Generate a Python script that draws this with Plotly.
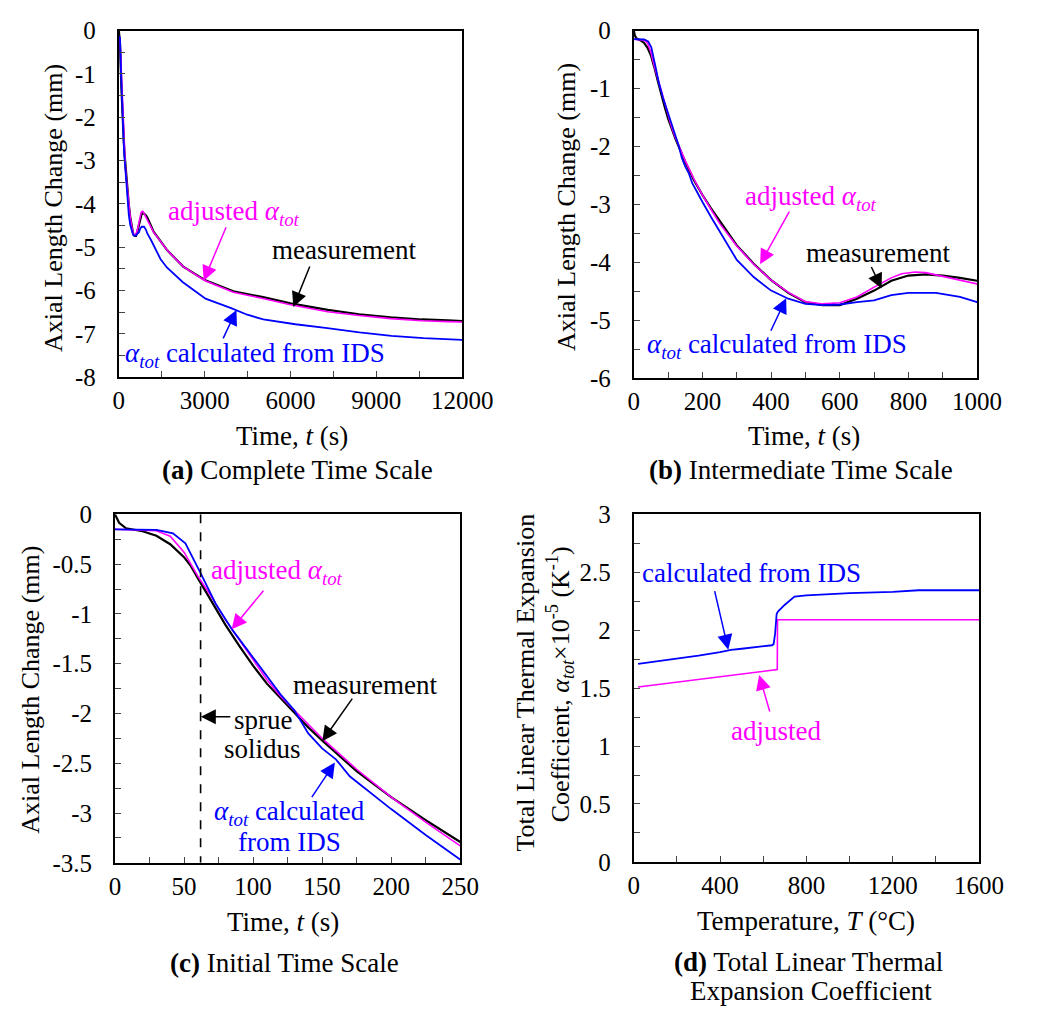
import plotly.graph_objects as go

W, H = 1038, 1019
FONT = "Liberation Serif"
MAG = "#FF00FF"
BLU = "#0000FF"

# ---------------- data: axial length change vs time (s) ----------------
meas_t = [0, 3, 8, 20, 30, 40, 50, 55, 60, 70, 80, 90, 100, 110, 120, 130, 140, 150, 175, 200,
          225, 250, 300, 350, 400, 450, 500, 550, 600, 650, 700, 750, 800, 850, 900, 950, 1000,
          1220, 1700, 2250, 3000, 4000, 5000, 6000, 7300, 8400, 9500, 10600, 11500, 12000]
meas_v = [0, -0.085, -0.14, -0.17, -0.215, -0.30, -0.43, -0.52, -0.64, -0.87, -1.11, -1.32, -1.52,
          -1.70, -1.85, -1.99, -2.14, -2.27, -2.58, -2.84, -3.07, -3.29, -3.71, -4.03, -4.31, -4.53,
          -4.69, -4.74, -4.74, -4.63, -4.49, -4.32, -4.23, -4.21, -4.23, -4.27, -4.32,
          -4.65, -5.08, -5.45, -5.76, -6.02, -6.15, -6.30, -6.45, -6.55, -6.62, -6.67, -6.69, -6.71]

adj_t = [0, 18, 30, 40, 50, 60, 70, 80, 90, 100, 110, 120, 130, 140, 150, 175, 200, 225, 250,
         300, 350, 400, 450, 500, 550, 600, 650, 700, 750, 780, 820, 850, 900, 950, 1000,
         1220, 1700, 2250, 3000, 4000, 5000, 6000, 7300, 8400, 9500, 10600, 11500, 12000]
adj_v = [-0.15, -0.155, -0.165, -0.22, -0.38, -0.62, -0.83, -1.06, -1.26, -1.47, -1.66, -1.83,
         -1.97, -2.10, -2.25, -2.56, -2.84, -3.09, -3.33,
         -3.72, -4.04, -4.31, -4.52, -4.68, -4.72, -4.70, -4.60, -4.43, -4.27, -4.20, -4.17,
         -4.18, -4.25, -4.31, -4.38,
         -4.66, -5.08, -5.45, -5.77, -6.04, -6.18, -6.33, -6.49, -6.58, -6.65, -6.70, -6.72, -6.73]

ids_t = [0, 17, 30, 42, 51, 62, 73, 85, 100, 120, 130, 140, 150, 160, 170, 180, 193, 200, 225, 250,
         300, 350, 400, 450, 500, 550, 600, 650, 700, 750, 800, 880, 950, 1000,
         1120, 1460, 1680, 2240, 3030, 3925, 4490, 5050, 6170, 7290, 8410, 9530, 10650, 12000]
ids_v = [-0.15, -0.15, -0.155, -0.19, -0.29, -0.59, -0.90, -1.16, -1.44, -1.81, -1.97, -2.20,
         -2.35, -2.46, -2.63, -2.74, -2.89, -2.96, -3.22, -3.46,
         -3.96, -4.26, -4.49, -4.63, -4.72, -4.74, -4.73, -4.69, -4.66, -4.57, -4.53, -4.53,
         -4.60, -4.69,
         -4.83, -5.28, -5.47, -5.81, -6.19, -6.41, -6.56, -6.67, -6.78, -6.87, -6.97, -7.05,
         -7.10, -7.14]

sprue_solidus_t = 62  # s

# ---------------- data: total linear thermal expansion coefficient ----------------
cte_ids_T = [20, 100, 200, 300, 400, 450, 500, 600, 640, 648, 655, 662, 668, 700, 745, 800,
             1000, 1200, 1320, 1400, 1600]
cte_ids_v = [1.71, 1.73, 1.75, 1.78, 1.81, 1.83, 1.84, 1.86, 1.87, 1.88, 1.97, 2.14, 2.16,
             2.22, 2.29, 2.30, 2.32, 2.33, 2.345, 2.345, 2.345]
cte_adj_T = [20, 665, 666, 1600]
cte_adj_v = [1.51, 1.66, 2.09, 2.09]

# ---------------- tick labels (major) and minor tick values ----------------
a_xvals = [0, 3000, 6000, 9000, 12000]
a_xtext = ["0", "3000", "6000", "9000", "12000"]
a_xminor = [1500, 4500, 7500, 10500]
a_yvals = [0, -1, -2, -3, -4, -5, -6, -7, -8]
a_ytext = ["0", "-1", "-2", "-3", "-4", "-5", "-6", "-7", "-8"]
a_yminor = [-0.5, -1.5, -2.5, -3.5, -4.5, -5.5, -6.5, -7.5]
b_xvals = [0, 200, 400, 600, 800, 1000]
b_xtext = ["0", "200", "400", "600", "800", "1000"]
b_xminor = [100, 300, 500, 700, 900]
b_yvals = [0, -1, -2, -3, -4, -5, -6]
b_ytext = ["0", "-1", "-2", "-3", "-4", "-5", "-6"]
b_yminor = [-0.5, -1.5, -2.5, -3.5, -4.5, -5.5]
c_xvals = [0, 50, 100, 150, 200, 250]
c_xtext = ["0", "50", "100", "150", "200", "250"]
c_xminor = [25, 75, 125, 175, 225]
c_yvals = [0, -0.5, -1, -1.5, -2, -2.5, -3, -3.5]
c_ytext = ["0", "-0.5", "-1", "-1.5", "-2", "-2.5", "-3", "-3.5"]
c_yminor = [-0.25, -0.75, -1.25, -1.75, -2.25, -2.75, -3.25]
d_xvals = [0, 400, 800, 1200, 1600]
d_xtext = ["0", "400", "800", "1200", "1600"]
d_xminor = [200, 600, 1000, 1400]
d_yvals = [0, 0.5, 1, 1.5, 2, 2.5, 3]
d_ytext = ["0", "0.5", "1", "1.5", "2", "2.5", "3"]
d_yminor = [0.25, 0.75, 1.25, 1.75, 2.25, 2.75]

fig = go.Figure()

for xa, ya in [("x", "y"), ("x2", "y2"), ("x3", "y3")]:
    fig.add_trace(go.Scatter(x=meas_t, y=meas_v, mode="lines", xaxis=xa, yaxis=ya,
                             line=dict(color="black", width=2.2), name="measurement",
                             showlegend=False))
    fig.add_trace(go.Scatter(x=adj_t, y=adj_v, mode="lines", xaxis=xa, yaxis=ya,
                             line=dict(color=MAG, width=1.6), name="adjusted", showlegend=False))
    fig.add_trace(go.Scatter(x=ids_t, y=ids_v, mode="lines", xaxis=xa, yaxis=ya,
                             line=dict(color=BLU, width=1.8), name="calculated from IDS",
                             showlegend=False))

fig.add_trace(go.Scatter(x=[sprue_solidus_t, sprue_solidus_t], y=[0, -3.5], mode="lines",
                         xaxis="x3", yaxis="y3", line=dict(color="black", width=1.6, dash="dash"),
                         showlegend=False))

fig.add_trace(go.Scatter(x=cte_adj_T, y=cte_adj_v, mode="lines", xaxis="x4", yaxis="y4",
                         line=dict(color=MAG, width=1.6), showlegend=False))
fig.add_trace(go.Scatter(x=cte_ids_T, y=cte_ids_v, mode="lines", xaxis="x4", yaxis="y4",
                         line=dict(color=BLU, width=1.8), showlegend=False))


def axis(domain, rng, vals, text, minor_vals, anchor, is_x):
    return dict(domain=domain, range=rng, anchor=anchor, tickmode="array", tickvals=vals,
                ticktext=text, ticks="inside", ticklen=6, tickwidth=1.2, tickcolor="#444",
                minor=dict(tickmode="array", tickvals=minor_vals, ticks="inside", ticklen=6,
                           tickwidth=1.2, tickcolor="#444", showgrid=False),
                showline=True, linecolor="black", linewidth=2, mirror=True, showgrid=False,
                zeroline=False, tickfont=dict(family=FONT, size=25, color="black"),
                ticklabelstandoff=0 if is_x else 16)


def xd(l, r):
    return [l / W, r / W]


def yd(t, b):
    return [1 - b / H, 1 - t / H]


fig.update_layout(
    width=W, height=H, margin=dict(l=0, r=0, t=0, b=0),
    paper_bgcolor="white", plot_bgcolor="white", showlegend=False,
    font=dict(family=FONT, size=27, color="black"),
    xaxis=axis(xd(117, 473), [0, 12000], a_xvals, a_xtext, a_xminor, "y", True),
    yaxis=axis(yd(18, 374), [-8, 0], a_yvals, a_ytext, a_yminor, "x", False),
    xaxis2=axis(xd(651, 1007), [0, 1000], b_xvals, b_xtext, b_xminor, "y2", True),
    yaxis2=axis(yd(18, 375), [-6, 0], b_yvals, b_ytext, b_yminor, "x2", False),
    xaxis3=axis(xd(113, 471), [0, 250], c_xvals, c_xtext, c_xminor, "y3", True),
    yaxis3=axis(yd(515, 873), [-3.5, 0], c_yvals, c_ytext, c_yminor, "x3", False),
    xaxis4=axis(xd(651, 1009), [0, 1600], d_xvals, d_xtext, d_xminor, "y4", True),
    yaxis4=axis(yd(515, 872), [0, 3], d_yvals, d_ytext, d_yminor, "x4", False),
)

anns = []


def txt(x, y, text, color="black", angle=0, size=27):
    anns.append(dict(xref="paper", yref="paper", x=x / W, y=1 - y / H, text=text,
                     showarrow=False, xanchor="center", yanchor="middle", textangle=angle,
                     font=dict(family=FONT, size=size, color=color)))


def arrow(tail, tip, color):
    anns.append(dict(xref="paper", yref="paper", x=tip[0] / W, y=1 - tip[1] / H, text="",
                     showarrow=True, axref="pixel", ayref="pixel",
                     ax=tail[0] - tip[0], ay=tail[1] - tip[1], arrowhead=2, arrowsize=2.0,
                     arrowwidth=1.5, arrowcolor=color))


ALPHA = "<i>α<sub>tot</sub></i>"

# panel (a)
txt(49, 200, "Axial Length Change (mm)", angle=-90, size=26)
txt(297, 435, "Time, <i>t</i> (s)")
txt(302, 469, "<b>(a)</b> Complete Time Scale")
txt(236, 205, "adjusted " + ALPHA, MAG)
arrow((228, 220), (205, 275), MAG)
txt(350, 243, "measurement")
arrow((315, 260), (298, 302), "black")
txt(258, 351, ALPHA + " calculated from IDS", BLU)
arrow((225, 335), (239, 305), BLU)

# panel (b)
txt(581, 199, "Axial Length Change (mm)", angle=-90, size=26)
txt(827, 435, "Time, <i>t</i> (s)")
txt(824, 469, "<b>(b)</b> Intermediate Time Scale")
txt(835, 190, "adjusted " + ALPHA, MAG)
arrow((812, 204), (782, 258), MAG)
txt(904, 247, "measurement")
arrow((897, 260), (908, 283), "black")
txt(800, 342, ALPHA + " calculated from IDS", BLU)
arrow((793, 327), (809, 293), BLU)

# panel (c)
txt(25, 695, "Axial Length Change (mm)", angle=-90, size=26)
txt(287, 934, "Time, <i>t</i> (s)")
txt(289, 976, "<b>(c)</b> Initial Time Scale")
txt(281, 574, "adjusted " + ALPHA, MAG)
arrow((267, 593), (234, 633), MAG)
txt(372, 690, "measurement")
arrow((359, 704), (328, 748), "black")
txt(266, 726, "sprue")
txt(266, 756, "solidus")
arrow((233, 723), (202, 723), "black")
txt(294, 822, ALPHA + " calculated", BLU)
txt(294, 852, "from IDS", BLU)
arrow((317, 806), (341, 770), BLU)

# panel (d)
txt(539, 688, "Total Linear Thermal Expansion", angle=-90, size=26)
txt(574, 690, "Coefficient, " + ALPHA + "×10<sup>-5</sup> (K<sup>-1</sup>)", angle=-90, size=26)
txt(830, 933, "Temperature, <i>T</i> (°C)")
txt(832, 975, "<b>(d)</b> Total Linear Thermal")
txt(835, 1005, "Expansion Coefficient")
txt(773, 575, "calculated from IDS", BLU)
arrow((735, 594), (749, 654), BLU)
txt(798, 738, "adjusted", MAG)
arrow((792, 718), (781, 680), MAG)

fig.update_layout(annotations=anns)
fig.write_html("out.html")
